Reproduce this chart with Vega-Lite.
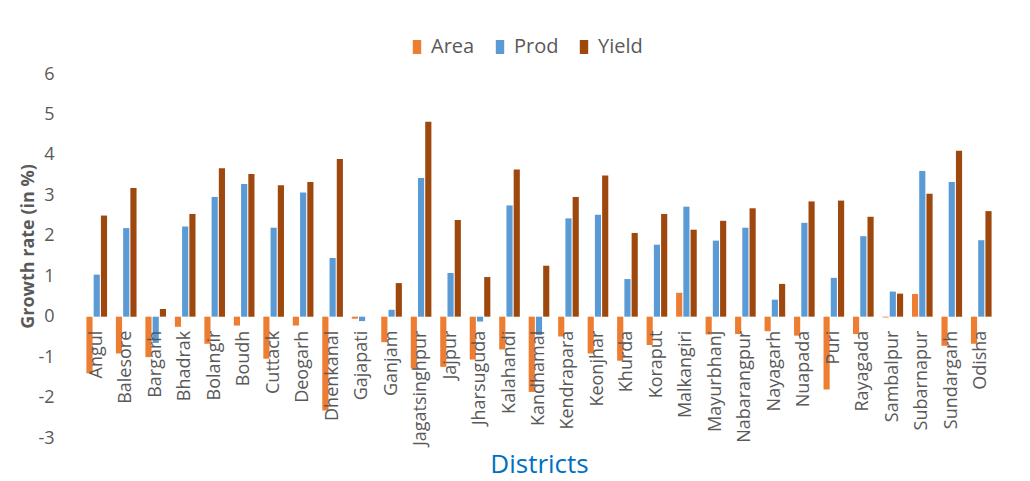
{
  "$schema": "https://vega.github.io/schema/vega-lite/v6.json",
  "autosize": {"type": "none"},
  "width": 914,
  "height": 364,
  "padding": {"left": 82, "top": 74, "right": 34, "bottom": 43},
  "background": "white",
  "config": {
    "view": {"stroke": null},
    "font": "Open Sans"
  },
  "data": {
    "values": [
      {"District": "Angul", "Area": -1.4, "Prod": 1.04, "Yield": 2.5},
      {"District": "Balesore", "Area": -0.91, "Prod": 2.19, "Yield": 3.18},
      {"District": "Bargarh", "Area": -1.0, "Prod": -0.65, "Yield": 0.19},
      {"District": "Bhadrak", "Area": -0.25, "Prod": 2.23, "Yield": 2.54},
      {"District": "Bolangir", "Area": -0.67, "Prod": 2.96, "Yield": 3.67},
      {"District": "Boudh", "Area": -0.22, "Prod": 3.28, "Yield": 3.53},
      {"District": "Cuttack", "Area": -1.04, "Prod": 2.2, "Yield": 3.25},
      {"District": "Deogarh", "Area": -0.22, "Prod": 3.07, "Yield": 3.33},
      {"District": "Dhenkanal", "Area": -2.32, "Prod": 1.45, "Yield": 3.9},
      {"District": "Gajapati", "Area": -0.05, "Prod": -0.11, "Yield": 0},
      {"District": "Ganjam", "Area": -0.63, "Prod": 0.17, "Yield": 0.83},
      {"District": "Jagatsinghpur", "Area": -1.28, "Prod": 3.43, "Yield": 4.82},
      {"District": "Jajpur", "Area": -1.24, "Prod": 1.08, "Yield": 2.39},
      {"District": "Jharsuguda", "Area": -1.06, "Prod": -0.12, "Yield": 0.98},
      {"District": "Kalahandi", "Area": -0.81, "Prod": 2.75, "Yield": 3.64},
      {"District": "Kandhamal", "Area": -1.86, "Prod": -0.45, "Yield": 1.26},
      {"District": "Kendrapara", "Area": -0.49, "Prod": 2.43, "Yield": 2.96},
      {"District": "Keonjhar", "Area": -0.91, "Prod": 2.52, "Yield": 3.49},
      {"District": "Khurda", "Area": -1.09, "Prod": 0.93, "Yield": 2.07},
      {"District": "Koraput", "Area": -0.7, "Prod": 1.78, "Yield": 2.54},
      {"District": "Malkangiri", "Area": 0.59, "Prod": 2.72, "Yield": 2.15},
      {"District": "Mayurbhanj", "Area": -0.44, "Prod": 1.88, "Yield": 2.37},
      {"District": "Nabarangpur", "Area": -0.43, "Prod": 2.2, "Yield": 2.68},
      {"District": "Nayagarh", "Area": -0.36, "Prod": 0.42, "Yield": 0.81},
      {"District": "Nuapada", "Area": -0.47, "Prod": 2.32, "Yield": 2.85},
      {"District": "Puri", "Area": -1.8, "Prod": 0.96, "Yield": 2.87},
      {"District": "Rayagada", "Area": -0.43, "Prod": 1.99, "Yield": 2.47},
      {"District": "Sambalpur", "Area": -0.02, "Prod": 0.62, "Yield": 0.57},
      {"District": "Subarnapur", "Area": 0.56, "Prod": 3.6, "Yield": 3.04},
      {"District": "Sundargarh", "Area": -0.72, "Prod": 3.33, "Yield": 4.1},
      {"District": "Odisha", "Area": -0.67, "Prod": 1.89, "Yield": 2.61}
    ]
  },
  "encoding": {
    "x": {
      "field": "District",
      "type": "nominal",
      "sort": null,
      "scale": {"paddingInner": 0.3, "paddingOuter": 0.15},
      "axis": {
        "labels": false,
        "ticks": false,
        "domain": false,
        "title": "Districts",
        "titleColor": "#0070C0",
        "titleFont": "Open Sans",
        "titleFontSize": 26,
        "titleFontWeight": "normal",
        "titleBaseline": "middle",
        "titleY": 26
      }
    }
  },
  "layer": [
    {
      "transform": [{"fold": ["Area", "Prod", "Yield"], "as": ["Measure", "Value"]}],
      "mark": {"type": "bar"},
      "encoding": {
        "xOffset": {
          "field": "Measure",
          "type": "nominal",
          "sort": ["Area", "Prod", "Yield"],
          "scale": {"paddingInner": 0.15}
        },
        "y": {
          "field": "Value",
          "type": "quantitative",
          "scale": {"domain": [-3, 6], "nice": false, "zero": false},
          "axis": {
            "values": [-3, -2, -1, 0, 1, 2, 3, 4, 5, 6],
            "labelExpr": "datum.value + ''",
            "domain": false,
            "ticks": false,
            "grid": false,
            "labelColor": "#595959",
            "labelFontSize": 18,
            "labelPadding": 28,
            "title": "Growth rate  (in %)",
            "titleColor": "#595959",
            "titleFontSize": 18,
            "titleFontWeight": "bold",
            "titleAngle": 270,
            "titleAlign": "center",
            "titleBaseline": "middle",
            "titleX": -54,
            "titleY": 172
          }
        },
        "color": {
          "field": "Measure",
          "type": "nominal",
          "scale": {"domain": ["Area", "Prod", "Yield"], "range": ["#ED7D31", "#5B9BD5", "#9E480E"]},
          "legend": {
            "title": null,
            "orient": "none",
            "direction": "horizontal",
            "legendX": 325,
            "legendY": -37,
            "padding": 0,
            "symbolType": "M-0.6,-1H0.6V1H-0.6Z",
            "symbolSize": 196,
            "symbolStrokeWidth": 0,
            "labelFontSize": 20,
            "labelColor": "#595959",
            "labelOffset": 4,
            "columnPadding": 15
          }
        }
      }
    },
    {
      "mark": {"type": "rule", "color": "#BFBFBF", "strokeWidth": 3},
      "encoding": {"y": {"datum": 0, "type": "quantitative"}}
    },
    {
      "mark": {
        "type": "text",
        "angle": 270,
        "align": "right",
        "baseline": "middle",
        "dx": -14,
        "fontSize": 18,
        "color": "#595959"
      },
      "encoding": {
        "y": {"datum": 0, "type": "quantitative"},
        "text": {"field": "District", "type": "nominal"}
      }
    }
  ]
}
